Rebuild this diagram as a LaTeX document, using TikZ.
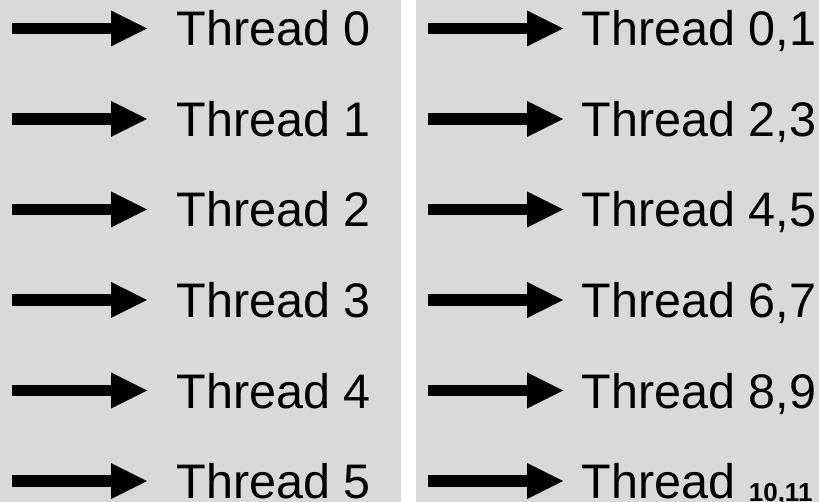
\documentclass[tikz,border=0pt]{standalone}
\usepackage{fontspec}
\setmainfont{Liberation Sans}
\usetikzlibrary{calc}
\definecolor{panelgrey}{HTML}{D9D9D9}
\tikzset{
  panel/.style={fill=panelgrey, draw=none},
  shaft/.style={line width=11.6pt, black},
  head/.style={fill=black},
  label/.style={anchor=base west, inner sep=0pt, font=\fontsize{48.5}{50}\selectfont}
}
\newcommand{\fatarrow}[2]{%
  \draw[shaft] (#1) -- ($(#2)+(-36,0)$);
  \fill[head] (#2) -- ++(-36,18) -- ++(0,-36) -- cycle;
}
\begin{document}
\begin{tikzpicture}[x=1pt,y=-1pt]
\useasboundingbox (0,0) rectangle (819,502);
\fill[panel] (0,0) rectangle (401,502);
\fill[panel] (416,0) rectangle (819,502);
\foreach \i/\l/\r in {0/0/{0,1},1/1/{2,3},2/2/{4,5},3/3/{6,7},4/4/{8,9}} {
  \coordinate (ls\i) at (11.7, 28.5+90.5*\i);
  \coordinate (le\i) at (147, 28.5+90.5*\i);
  \coordinate (rs\i) at (427.7, 28.5+90.5*\i);
  \coordinate (re\i) at (563, 28.5+90.5*\i);
  \fatarrow{ls\i}{le\i}
  \fatarrow{rs\i}{re\i}
  \node[label] (lt\i) at (176.5, 46+90.5*\i) {Thread \l};
  \node[label] (rt\i) at (581.5, 46+90.5*\i) {Thread \r};
}
\coordinate (ls5) at (11.7, 481);
\coordinate (le5) at (147, 481);
\coordinate (rs5) at (427.7, 481);
\coordinate (re5) at (563, 481);
\fatarrow{ls5}{le5}
\fatarrow{rs5}{re5}
\node[label] (lt5) at (176.5, 498.5) {Thread 5};
\node[label] (rt5) at (581.5, 498.5) {Thread \raisebox{-3pt}{\bfseries\fontsize{26}{26}\selectfont 10,11}};
\end{tikzpicture}
\end{document}
